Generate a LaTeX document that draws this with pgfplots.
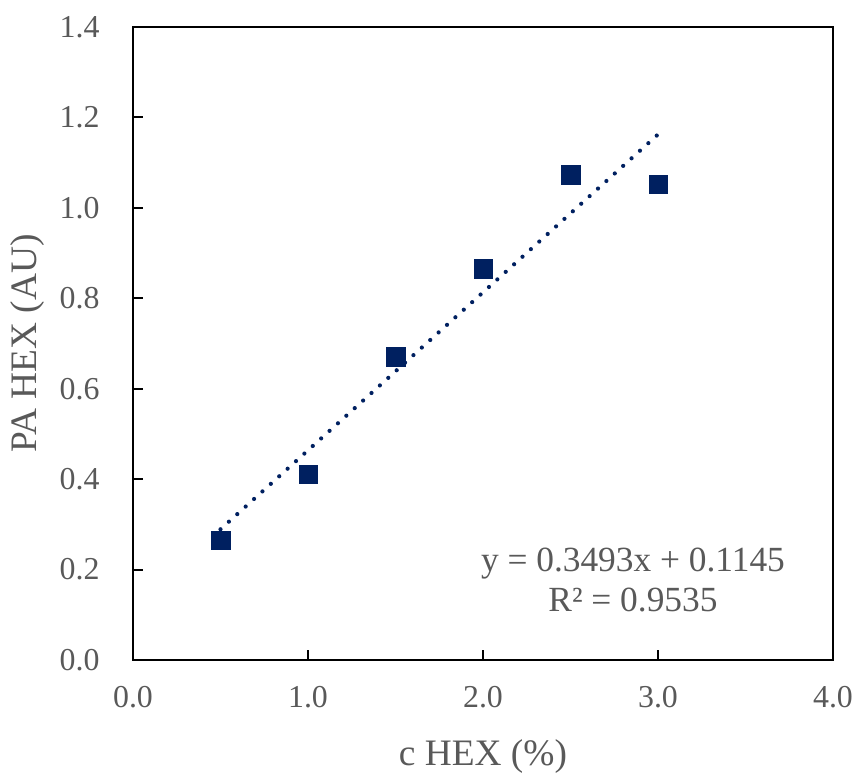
\documentclass[border=0pt]{standalone}
\usepackage{pgfplots}
\pgfplotsset{compat=1.18}
\usepackage{fontspec}
\setmainfont{Liberation Serif}
\definecolor{txtgray}{RGB}{89,89,89}
\definecolor{navy}{RGB}{0,32,96}
\begin{document}
\begin{tikzpicture}
\begin{axis}[
  name=main,
  scale only axis,
  width=700bp, height=633bp,
  xmin=0, xmax=4, ymin=0, ymax=1.4,
  xtick={0,1,2,3,4}, ytick={0,0.2,0.4,0.6,0.8,1.0,1.2,1.4},
  tick align=inside,
  xtick pos=bottom, ytick pos=left,
  major tick length=10bp,
  axis line style={black, line width=2.2bp},
  tick style={black, line width=2bp},
  /pgf/number format/assume math mode=true,
  /pgf/number format/.cd, fixed, fixed zerofill, precision=1, /pgfplots/.cd,
  ticklabel style={font=\fontsize{32}{38}\selectfont, text=txtgray},
  yticklabel style={xshift=-30bp},
  xticklabel style={yshift=-23bp},
  xlabel={c HEX (\%)},
  ylabel={PA HEX (AU)},
  label style={font=\fontsize{37.5}{44}\selectfont, text=txtgray},
  xlabel style={yshift=-25bp},
  ylabel style={yshift=8bp},
  clip=false,
]
\addplot[only marks, mark=square*, mark size=9.25bp, mark options={fill=navy, draw=navy}]
  coordinates {(0.5,0.2654) (1.0,0.411) (1.5,0.671) (2.0,0.8655) (2.5,1.0728) (3.0,1.052)};
\addplot[navy, line width=4.2bp, dash pattern=on 0bp off 11.3bp, line cap=round]
  coordinates {(0.5,0.28915) (3.0,1.1624)};
\node[align=center, text=txtgray, font=\fontsize{35.5}{40}\selectfont] at (axis cs:2.857,0.177)
  {y = 0.3493x + 0.1145\\R² = 0.9535};
\end{axis}
\pgfresetboundingbox
\path[use as bounding box] ([shift={(-133bp,-114bp)}]main.south west) rectangle ([shift={(24bp,27bp)}]main.north east);
\end{tikzpicture}
\end{document}
